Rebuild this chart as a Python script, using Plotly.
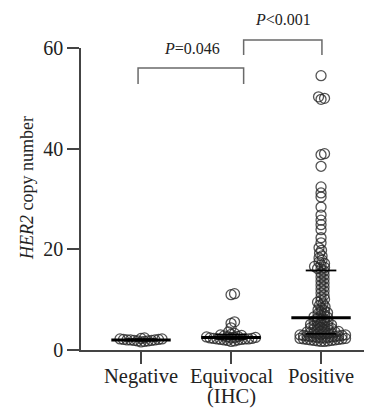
import numpy as np
import plotly.graph_objects as go

categories = ["Negative", "Equivocal", "Positive"]
category_sub = ["", "(IHC)", ""]

negative = [1.6, 1.7, 1.8, 1.8, 1.9, 1.9, 2.0, 2.0, 2.0, 2.1, 2.1, 2.2, 2.2, 2.3, 2.4]

equivocal = [1.7, 1.8, 1.9, 2.0, 2.0, 2.1, 2.1, 2.2, 2.2, 2.2, 2.3, 2.3, 2.4, 2.4,
             2.5, 2.5, 2.6, 2.6, 2.7, 2.8, 2.9, 3.0, 3.1, 3.3, 3.6, 4.4, 5.3, 5.6,
             11.0, 11.2]

positive = [54.5, 50.3, 50.0, 49.8, 39.0, 38.8, 36.5, 32.4, 31.2, 30.4, 28.4, 26.8,
            25.8, 24.9, 23.9, 22.3, 21.3, 20.3, 19.8, 19.2, 18.7, 18.3, 17.9, 17.5,
            17.2, 16.9, 16.6, 16.4, 16.2, 16.1,
            15.7, 15.3, 14.9, 14.5, 14.1, 13.7, 13.3, 12.9, 12.5, 12.1, 11.7, 11.3,
            10.9, 10.5, 10.1, 9.8, 9.5, 9.2, 8.9, 8.6, 8.3, 8.0, 7.8, 7.6, 7.4, 7.2,
            7.0, 6.8, 6.6, 6.5,
            6.3, 6.1, 6.0, 5.8, 5.7, 5.5, 5.4, 5.3, 5.1, 5.0, 4.9, 4.8, 4.7, 4.6,
            4.5, 4.4, 4.3, 4.2, 4.1, 4.0, 3.9, 3.8, 3.7, 3.6, 3.6, 3.5, 3.4, 3.4,
            3.3, 3.2, 3.2, 3.1, 3.0, 3.0, 2.9, 2.9, 2.8, 2.8, 2.7, 2.7, 2.6, 2.6,
            2.5, 2.5, 2.4, 2.4, 2.3, 2.3, 2.2, 2.2, 2.1, 2.1, 2.0, 2.0, 1.9, 1.9,
            1.8, 1.8, 1.7, 1.7]

groups = [negative, equivocal, positive]

y_ticks = [0, 20, 40, 60]
y_title = "<i>HER2</i> copy number"
p_labels = ["<i>P</i>=0.046", "<i>P</i>&lt;0.001"]

# layout geometry (page body adds an 8px offset)
OFF = 8
W, H = 372 - OFF, 410 - OFF
ML, MR, MT, MB = 81 - OFF, 2, 48 - OFF, 60
XR = [-0.667, 2.544]
YR = [0, 60]
pw = W - ML - MR
ph = H - MT - MB
px_per_x = pw / (XR[1] - XR[0])
px_per_y = ph / (YR[1] - YR[0])


def swarm(vals, mind=3.4, step=0.5):
    order = np.argsort(vals)
    placed = []
    offs = np.zeros(len(vals))
    for i in order:
        py = vals[i] * px_per_y
        k = 0
        while True:
            cands = [0.0] if k == 0 else [k * step, -k * step]
            ok = None
            for c in cands:
                good = True
                for (qx, qy) in placed:
                    if (qx - c) ** 2 + (qy - py) ** 2 < mind ** 2:
                        good = False
                        break
                if good:
                    ok = c
                    break
            if ok is not None:
                placed.append((ok, py))
                offs[i] = ok
                break
            k += 1
    return offs / px_per_x


fig = go.Figure()
for gi, vals in enumerate(groups):
    v = np.array(vals, dtype=float)
    xo = swarm(v)
    fig.add_trace(go.Scatter(
        x=gi + xo, y=v, mode="markers",
        marker=dict(symbol="circle-open", size=10, color="rgba(40,40,40,0.8)",
                    line=dict(width=1.3)),
        showlegend=False, hoverinfo="skip", cliponaxis=False))

shapes = []
for gi, vals in enumerate(groups):
    v = np.array(vals, dtype=float)
    q1, med, q3 = np.percentile(v, [25, 50, 75])
    shapes.append(dict(type="line", xref="x", yref="y", x0=gi - 0.33, x1=gi + 0.33,
                       y0=med, y1=med, line=dict(color="black", width=3)))
    for q in (q1, q3):
        shapes.append(dict(type="line", xref="x", yref="y", x0=gi - 0.17, x1=gi + 0.17,
                           y0=q, y1=q, line=dict(color="black", width=1.8)))


def xp(x):
    return (x - XR[0]) / (XR[1] - XR[0])


def xpx(px):
    # px: screen pixel column in the reference picture
    return (px - OFF - ML) / pw


def yp(py):
    # py: screen pixel row in the reference picture
    return (MT + ph - (py - OFF)) / ph


bracket_col = "#6a6a6a"
b1 = (-0.033, 1.14, 68, 84)
b2 = (1.14, 2.01, 40, 55)
for (xa, xb, top, bot) in (b1, b2):
    shapes.append(dict(type="path", xref="paper", yref="paper",
                       path=f"M {xp(xa)},{yp(bot)} L {xp(xa)},{yp(top)} L {xp(xb)},{yp(top)} L {xp(xb)},{yp(bot)}",
                       line=dict(color=bracket_col, width=1.5)))

annotations = [
    dict(x=0.567, y=yp(48), xref="x", yref="paper", text=p_labels[0], showarrow=False,
         font=dict(size=16, color="#222"), xanchor="center", yanchor="middle"),
    dict(x=1.578, y=yp(20), xref="x", yref="paper", text=p_labels[1], showarrow=False,
         font=dict(size=16, color="#222"), xanchor="center", yanchor="middle"),
    dict(x=xpx(27), y=yp(188), xref="paper", yref="paper", text=y_title, textangle=-90,
         showarrow=False, font=dict(size=18, color="#222"), xanchor="center",
         yanchor="middle"),
]
for gi, (lab, sub) in enumerate(zip(categories, category_sub)):
    annotations.append(dict(x=gi, y=yp(376), xref="x", yref="paper", text=lab,
                            showarrow=False, font=dict(size=20.5, color="#222"),
                            xanchor="center", yanchor="middle"))
    if sub:
        annotations.append(dict(x=gi, y=yp(396), xref="x", yref="paper", text=sub,
                                showarrow=False, font=dict(size=20.5, color="#222"),
                                xanchor="center", yanchor="middle"))

axcol = "#444"
fig.update_layout(
    width=W, height=H,
    margin=dict(l=ML, r=MR, t=MT, b=MB),
    paper_bgcolor="white", plot_bgcolor="white",
    font=dict(family="Liberation Serif", size=20, color="#222"),
    shapes=shapes, annotations=annotations,
    xaxis=dict(range=XR, tickvals=[0, 1, 2], showticklabels=False, showgrid=False,
               zeroline=False, showline=True, linecolor=axcol, linewidth=1.5,
               ticks="outside", ticklen=12, tickwidth=1.5, tickcolor=axcol,
               automargin=False),
    yaxis=dict(range=YR, tickvals=y_ticks, showgrid=False, zeroline=False,
               showline=True, linecolor=axcol, linewidth=1.5, ticks="outside",
               ticklen=12, tickwidth=1.5, tickcolor=axcol, tickfont=dict(size=20),
               automargin=False),
)

fig.write_html("out.html")
